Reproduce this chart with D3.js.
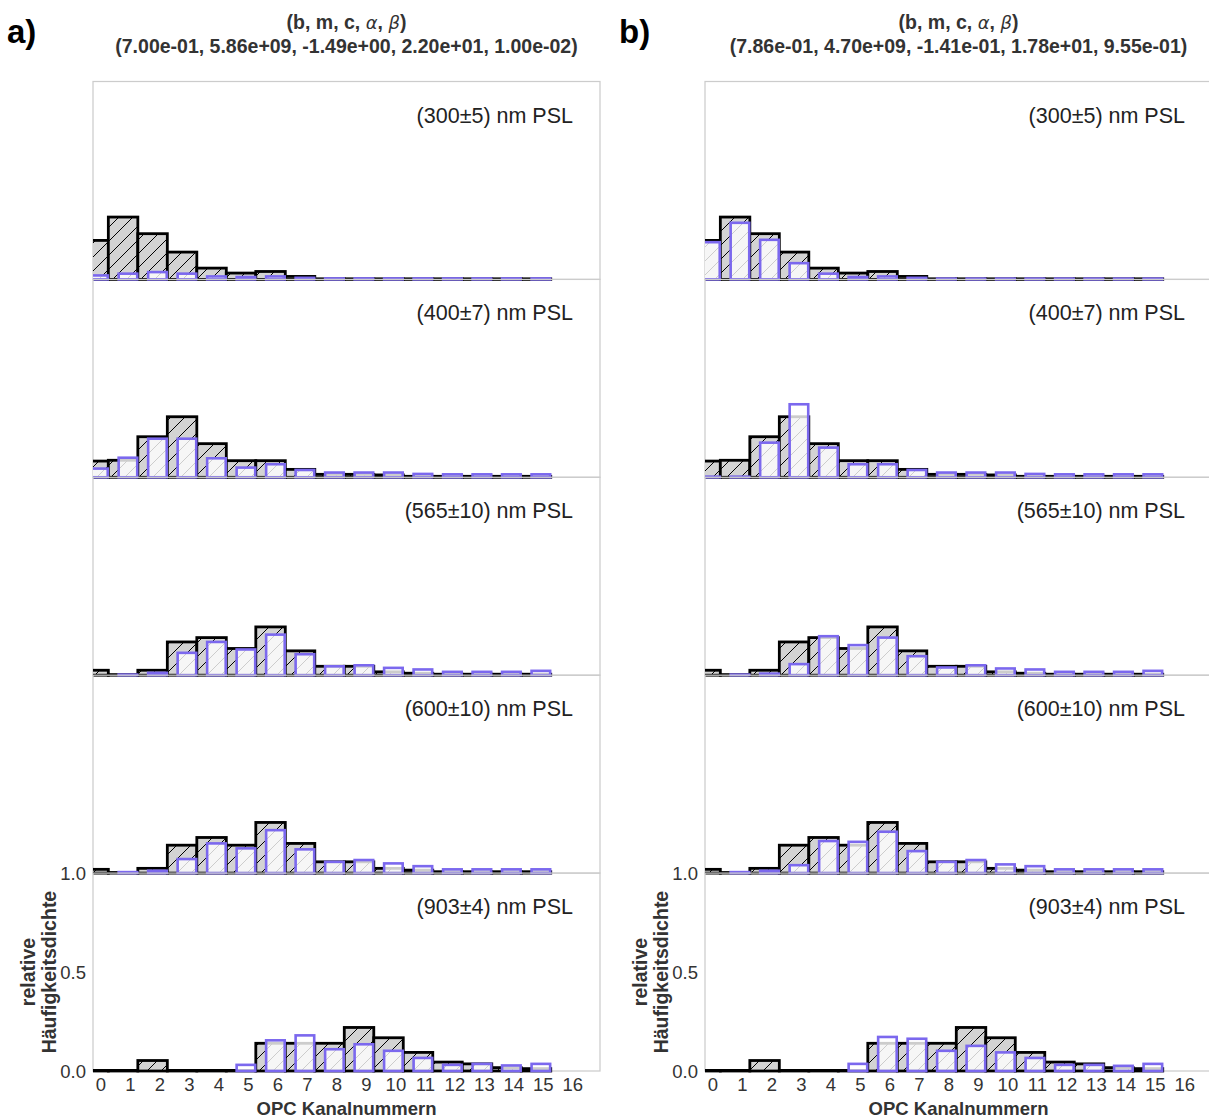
<!DOCTYPE html>
<html><head><meta charset="utf-8">
<script src="https://cdn.jsdelivr.net/npm/d3@7"></script>
<style>body{margin:0;background:#fff} svg{display:block} text{font-family:"Liberation Sans",Arial,sans-serif}</style>
</head><body><svg id="c" width="1209" height="1118"></svg>
<script>
// ---------- data ----------
const channels = [0,1,2,3,4,5,6,7,8,9,10,11,12,13,14,15];
const xTickLabels = [0,1,2,3,4,5,6,7,8,9,10,11,12,13,14,15,16];
const yTickLabels = [0.0, 0.5, 1.0];
const panelLabels = ["(300\u00b15) nm PSL","(400\u00b17) nm PSL","(565\u00b110) nm PSL","(600\u00b110) nm PSL","(903\u00b14) nm PSL"];
const columnLetters = ["a)","b)"];
const paramValues = ["(7.00e-01, 5.86e+09, -1.49e+00, 2.20e+01, 1.00e-02)","(7.86e-01, 4.70e+09, -1.41e-01, 1.78e+01, 9.55e-01)"];

// measured (black, hatched) relative frequency densities
const measured300 = [0.197,0.315,0.231,0.138,0.057,0.032,0.040,0.015,0.003,0.003,0.003,0.003,0.003,0.003,0.003,0.003];
const measured400 = [0.082,0.086,0.205,0.306,0.170,0.084,0.084,0.040,0.015,0.015,0.012,0.005,0.005,0.005,0.005,0.005];
const measured565 = [0.025,0.003,0.025,0.168,0.190,0.135,0.244,0.123,0.045,0.045,0.017,0.010,0.005,0.005,0.005,0.005];
const measured600 = [0.019,0.003,0.024,0.141,0.180,0.141,0.256,0.150,0.057,0.057,0.024,0.015,0.007,0.007,0.007,0.007];
const measured903 = [0.003,0.003,0.053,0.003,0.003,0.003,0.140,0.140,0.140,0.220,0.168,0.094,0.045,0.036,0.017,0.012];

// modelled (purple) – column a
const modelA300 = [0.020,0.029,0.037,0.029,0.015,0.012,0.015,0.008,0.005,0.005,0.005,0.005,0.005,0.005,0.005,0.005];
const modelA400 = [0.044,0.099,0.195,0.195,0.096,0.049,0.066,0.037,0.024,0.024,0.024,0.017,0.015,0.015,0.015,0.015];
const modelA565 = [0.000,0.003,0.012,0.113,0.168,0.130,0.205,0.106,0.045,0.050,0.037,0.029,0.017,0.017,0.017,0.022];
const modelA600 = [0.000,0.005,0.012,0.071,0.150,0.125,0.217,0.120,0.057,0.066,0.049,0.035,0.019,0.019,0.019,0.019];
const modelA903 = [0.000,0.000,0.000,0.000,0.000,0.031,0.155,0.180,0.110,0.135,0.102,0.066,0.031,0.036,0.028,0.036];
// modelled (purple) – column b
const modelB300 = [0.188,0.286,0.200,0.082,0.029,0.012,0.015,0.008,0.004,0.004,0.004,0.004,0.004,0.004,0.004,0.004];
const modelB400 = [0.003,0.003,0.175,0.369,0.150,0.066,0.066,0.037,0.024,0.024,0.024,0.017,0.015,0.015,0.015,0.015];
const modelB565 = [0.000,0.003,0.008,0.056,0.197,0.152,0.190,0.096,0.039,0.050,0.034,0.029,0.017,0.017,0.017,0.022];
const modelB600 = [0.000,0.005,0.012,0.040,0.162,0.158,0.209,0.111,0.057,0.066,0.044,0.035,0.019,0.019,0.019,0.019];
const modelB903 = [0.000,0.000,0.000,0.000,0.000,0.036,0.172,0.163,0.102,0.127,0.094,0.066,0.031,0.031,0.026,0.036];

const measuredSets = [measured300, measured400, measured565, measured600, measured903];
const modelSets = [[modelA300,modelA400,modelA565,modelA600,modelA903],[modelB300,modelB400,modelB565,modelB600,modelB903]];

// ---------- layout ----------
const svg = d3.select("#c");
const colLeft = [93, 705];
const axW = 507;
const top0 = 81.5;
const ph = 197.9;
const nP = 5;

const defs = svg.append("defs");
const pat = defs.append("pattern").attr("id","hatch").attr("patternUnits","userSpaceOnUse")
  .attr("width",14).attr("height",14);
pat.append("rect").attr("width",14).attr("height",14).attr("fill","#d3d3d3");
pat.append("path").attr("d","M-3.5,3.5L3.5,-3.5M0,14L14,0M10.5,17.5L17.5,10.5")
  .attr("stroke","#000").attr("stroke-width",1);

colLeft.forEach((left, ci) => {
  const x = d3.scaleLinear().domain([-0.27, 16.92]).range([left, left + axW]);
  const clipId = "clip" + ci;
  defs.append("clipPath").attr("id", clipId).append("rect")
    .attr("x", left).attr("y", top0 - 5).attr("width", axW).attr("height", nP*ph + 10);
  const g = svg.append("g");

  for (let p = 0; p < nP; p++) {
    const pTop = top0 + p*ph, pBot = pTop + ph;
    const y = d3.scaleLinear().domain([0, 1]).range([pBot, pTop]);
    g.append("rect").attr("x", left).attr("y", pTop).attr("width", axW).attr("height", ph)
      .attr("fill","none").attr("stroke","#cccccc").attr("stroke-width",1.25);

    const bars = g.append("g").attr("clip-path", `url(#${clipId})`);
    bars.selectAll("rect.meas").data(measuredSets[p]).join("rect").attr("class","meas")
      .attr("x", (d,i) => x(channels[i] - 0.75))
      .attr("width", (d,i) => x(channels[i] + 0.25) - x(channels[i] - 0.75))
      .attr("y", d => y(d)).attr("height", d => y(0) - y(d))
      .attr("fill","url(#hatch)").attr("stroke","#000").attr("stroke-width",2.8);
    bars.selectAll("rect.mod").data(modelSets[ci][p]).join("rect").attr("class","mod")
      .attr("x", (d,i) => x(channels[i] - 0.4))
      .attr("width", (d,i) => x(channels[i] + 0.23) - x(channels[i] - 0.4))
      .attr("y", d => y(d)).attr("height", d => y(0) - y(d))
      .attr("fill","#fff").attr("fill-opacity",0.8)
      .attr("stroke","#7b68ee").attr("stroke-width",2.6);

    g.append("text").attr("x", left + axW - 27).attr("y", pTop + 41)
      .attr("text-anchor","end").attr("font-size",21.5).attr("fill","#222")
      .text(panelLabels[p]);

    if (p === nP - 1) {
      g.selectAll("text.yt").data(yTickLabels).join("text").attr("class","yt")
        .attr("x", left - 7).attr("y", d => y(d)).attr("dy","0.36em")
        .attr("text-anchor","end").attr("font-size",18.5).attr("fill","#333")
        .text(d => d.toFixed(1));
      g.selectAll("text.xt").data(xTickLabels).join("text").attr("class","xt")
        .attr("x", d => x(d)).attr("y", pBot + 20)
        .attr("text-anchor","middle").attr("font-size",18.5).attr("fill","#333")
        .text(d => d);
      g.append("text").attr("x", left + axW/2).attr("y", pBot + 44)
        .attr("text-anchor","middle").attr("font-size",18.5).attr("font-weight","bold").attr("fill","#333")
        .text("OPC Kanalnummern");
      const yl = g.append("text").attr("transform", `translate(${left - 58},${(pTop+pBot)/2}) rotate(-90)`)
        .attr("text-anchor","middle").attr("font-size",19.5).attr("font-weight","bold").attr("fill","#333");
      yl.append("tspan").attr("x",0).attr("dy",0).text("relative");
      yl.append("tspan").attr("x",0).attr("dy",21).text("H\u00e4ufigkeitsdichte");
    }
  }

  // title
  const cx = left + axW/2;
  const t1 = svg.append("text").attr("x", cx).attr("y", 29).attr("text-anchor","middle")
    .attr("font-size",19.5).attr("font-weight","bold").attr("fill","#333");
  t1.append("tspan").text("(b, m, c, ");
  t1.append("tspan").attr("font-family","DejaVu Sans").attr("font-style","italic").attr("font-weight","normal").attr("font-size",18).text("\u03b1");
  t1.append("tspan").text(", ");
  t1.append("tspan").attr("font-family","DejaVu Sans").attr("font-style","italic").attr("font-weight","normal").attr("font-size",18).text("\u03b2");
  t1.append("tspan").text(")");
  svg.append("text").attr("x", cx).attr("y", 53).attr("text-anchor","middle")
    .attr("font-size",19.5).attr("font-weight","bold").attr("fill","#333").text(paramValues[ci]);

  svg.append("text").attr("x", left - 86).attr("y", 43).attr("font-family","'Open Sans',sans-serif")
    .attr("font-size",33).attr("font-weight","bold").attr("fill","#000").text(columnLetters[ci]);
});
</script></body></html>
